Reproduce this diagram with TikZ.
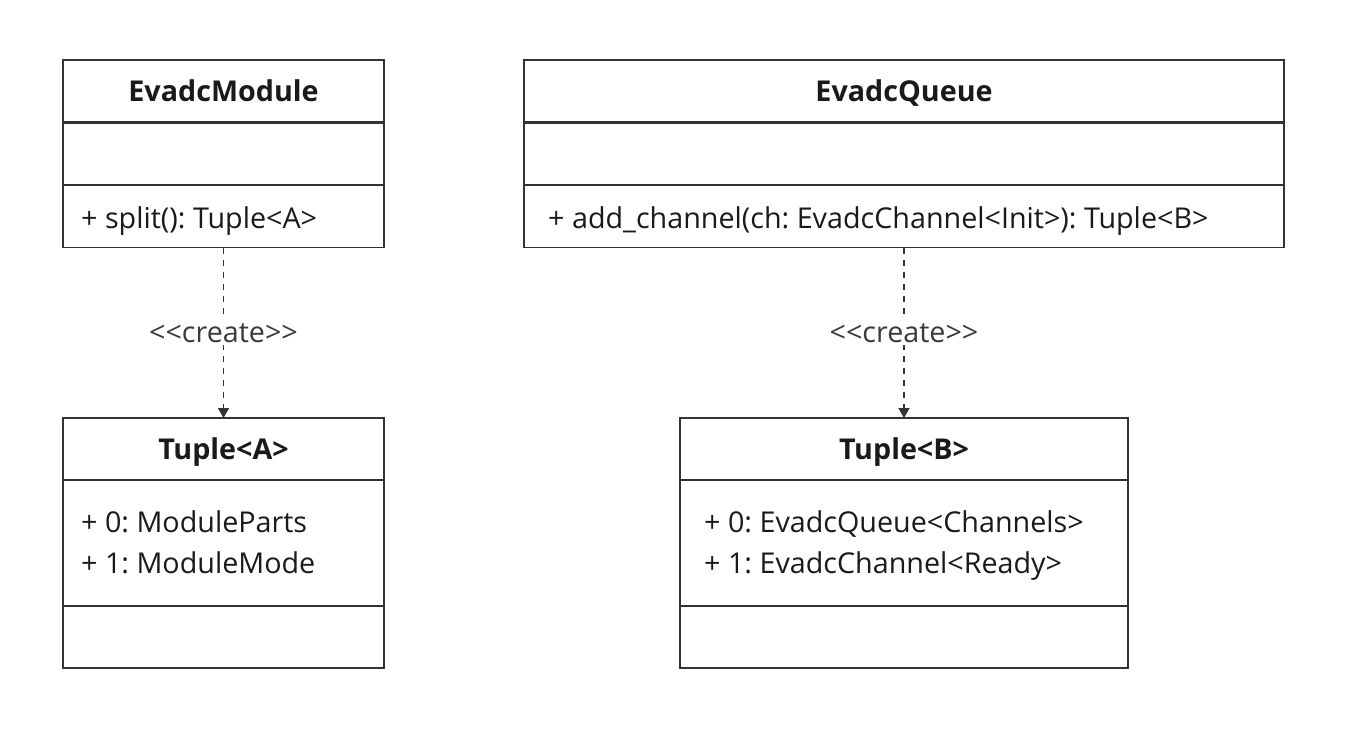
\documentclass[tikz,border=0pt]{standalone}
\usepackage{fontspec}
\setmainfont{Open Sans}[Ligatures=NoCommon]
\frenchspacing
\usetikzlibrary{arrows.meta}
\definecolor{linec}{HTML}{333333}
\definecolor{textc}{HTML}{1A1A1A}
\definecolor{labc}{HTML}{3A3A3A}
\newcommand{\lt}{\char"003C\relax}
\newcommand{\gt}{\char"003E\relax}
\tikzset{
  comp/.style={draw=linec, line width=1.6pt, fill=white, inner sep=0pt, outer sep=0pt},
  title/.style={font=\fontsize{28.7}{33}\selectfont\bfseries, text=textc, inner sep=0pt, text height=20.5pt, text depth=0pt},
  member/.style={font=\fontsize{28.7}{33}\selectfont, text=textc, inner sep=0pt, anchor=base west},
  dep/.style={draw=linec, line width=1.5pt, dash pattern=on 6pt off 6pt, -{Triangle[length=10pt,width=11pt]}},
  stereo/.style={font=\fontsize{28.7}{33}\selectfont, text=labc, fill=white, inner sep=3pt}
}
\begin{document}
\begin{tikzpicture}[x=1pt,y=-1pt]
\useasboundingbox (0,0) rectangle (1347,742);
% EvadcModule
\node[comp, minimum width=321pt, minimum height=62pt] (mhead) at (223.5,91) {};
\node[comp, minimum width=321pt, minimum height=62pt] (mattr) at (223.5,154) {};
\node[comp, minimum width=321pt, minimum height=62pt] (mmeth) at (223.5,216.5) {};
\node[title] (mtitle) at (mhead.center) {EvadcModule};
\node[member] (mm1) at (81,228) {+ split(): Tuple\lt A\gt};
% EvadcQueue
\node[comp, minimum width=760pt, minimum height=62pt] (qhead) at (904,91) {};
\node[comp, minimum width=760pt, minimum height=62pt] (qattr) at (904,154) {};
\node[comp, minimum width=760pt, minimum height=62pt] (qmeth) at (904,216.5) {};
\node[title] (qtitle) at (qhead.center) {EvadcQueue};
\node[member] (qm1) at (548,228) {+ add\_channel(ch: EvadcChannel\lt Init\gt): Tuple\lt B\gt};
% Tuple<A>
\node[comp, minimum width=321pt, minimum height=62pt] (ahead) at (223.5,449) {};
\node[comp, minimum width=321pt, minimum height=125pt] (aattr) at (223.5,543) {};
\node[comp, minimum width=321pt, minimum height=62pt] (ameth) at (223.5,637) {};
\node[title] (atitle) at (ahead.center) {Tuple\lt A\gt};
\node[member] (aa1) at (81,532) {+ 0: ModuleParts};
\node[member] (aa2) at (81,573) {+ 1: ModuleMode};
% Tuple<B>
\node[comp, minimum width=448pt, minimum height=62pt] (bhead) at (904,449) {};
\node[comp, minimum width=448pt, minimum height=125pt] (battr) at (904,543) {};
\node[comp, minimum width=448pt, minimum height=62pt] (bmeth) at (904,637) {};
\node[title] (btitle) at (bhead.center) {Tuple\lt B\gt};
\node[member] (ba1) at (704,532) {+ 0: EvadcQueue\lt Channels\gt};
\node[member] (ba2) at (704,573) {+ 1: EvadcChannel\lt Ready\gt};
% dependencies
\draw[dep] (mmeth.south) -- (ahead.north) node[midway, stereo] {\lt\lt create\gt\gt};
\draw[dep] (qmeth.south) -- (bhead.north) node[midway, stereo] {\lt\lt create\gt\gt};
\end{tikzpicture}
\end{document}
